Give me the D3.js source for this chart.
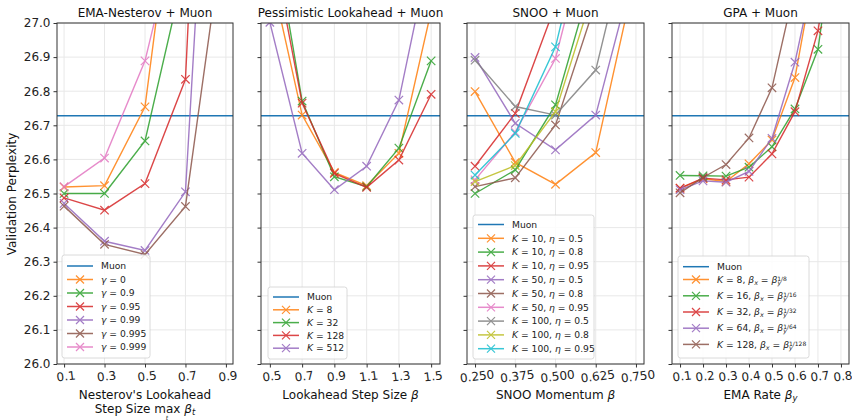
<!DOCTYPE html>
<html><head><meta charset="utf-8">
<script src="https://cdn.jsdelivr.net/npm/d3@7"></script>
<style>body{margin:0;background:#fff}svg{display:block;font-family:"DejaVu Sans",sans-serif}</style>
</head><body><svg id="c" width="852" height="420"></svg>
<script>
// ---------- DATA ----------
const muonBaseline = 26.728;
const yTicks = [26.0,26.1,26.2,26.3,26.4,26.5,26.6,26.7,26.8,26.9,27.0];

// Panel 1: EMA-Nesterov + Muon
const emaX = [0.1,0.3,0.5,0.7,0.9];
const emaTicks = [0.1,0.3,0.5,0.7,0.9];
const emaGammas = ["0","0.9","0.95","0.99","0.995","0.999"];
const emaSeries = [
  [26.519, 26.523, 26.754, 27.67, null],
  [26.500, 26.500, 26.654, 27.17, null],
  [26.487, 26.451, 26.529, 26.835, 29.3],
  [26.471, 26.360, 26.333, 26.505, 28.54],
  [26.463, 26.351, 26.321, 26.462, 27.32],
  [26.520, 26.604, 26.889, 27.38, null]
];

// Panel 2: Pessimistic Lookahead + Muon
const pessX = [0.5,0.7,0.9,1.1,1.3,1.5];
const pessTicks = [0.5,0.7,0.9,1.1,1.3,1.5];
const pessK = ["8","32","128","512"];
const pessSeries = [
  [27.155, 26.730, 26.562, 26.523, 26.618, 27.035],
  [27.33, 26.771, 26.549, 26.520, 26.633, 26.889],
  [27.26, 26.765, 26.559, 26.518, 26.598, 26.791],
  [27.002, 26.618, 26.511, 26.580, 26.774, 27.226]
];

// Panel 3: SNOO + Muon
const snooX = [0.25,0.375,0.5,0.625,0.75];
const snooTicks = [0.25,0.375,0.5,0.625,0.75];
const snooK = ["10","10","10","50","50","50","100","100","100"];
const snooEta = ["0.5","0.8","0.95","0.5","0.8","0.95","0.5","0.8","0.95"];
const snooSeries = [
  [26.799, 26.591, 26.527, 26.620, 27.15],
  [26.500, 26.569, 26.760, 27.17, null],
  [26.580, 26.735, 27.053, null, null],
  [26.899, 26.706, 26.628, 26.730, 27.18],
  [26.520, 26.546, 26.701, 27.06, null],
  [26.540, 26.680, 26.896, 27.36, null],
  [26.891, 26.755, 26.730, 26.862, 27.35],
  [26.535, 26.582, 26.740, 27.115, null],
  [26.554, 26.676, 26.930, 27.42, null]
];

// Panel 4: GPA + Muon
const gpaX = [0.1,0.2,0.3,0.4,0.5,0.6,0.7,0.8];
const gpaTicks = [0.1,0.2,0.3,0.4,0.5,0.6,0.7,0.8];
const gpaK = ["8","16","32","64","128"];
const gpaSeries = [
  [26.515, 26.543, 26.535, 26.587, 26.657, 26.840, 27.21, null],
  [26.553, 26.552, 26.551, 26.577, 26.637, 26.748, 26.923, 27.40],
  [26.516, 26.545, 26.540, 26.548, 26.616, 26.740, 26.977, 27.40],
  [26.511, 26.537, 26.533, 26.565, 26.662, 26.885, 27.20, null],
  [26.502, 26.547, 26.585, 26.663, 26.810, 27.107, null, null]
];

const colors = ["#ff7f0e","#2ca02c","#d62728","#9467bd","#8c564b","#e377c2","#7f7f7f","#bcbd22","#17becf"];
const muonColor = "#1f77b4";

// ---------- LAYOUT ----------
const svg = d3.select("#c");
const yTop = 23, yBot = 364;
const y = d3.scaleLinear().domain([26,27]).range([yBot,yTop]);

const I = t => ({t, it:true});
const R = t => ({t});
const SUB = t => ({t, sub:true, it:true});
const SUP = t => ({t, sup:true});

const panels = [
  {title:"EMA-Nesterov + Muon", xd:[0.065,0.935], xr:[57,233], xs:emaX, ticks:emaTicks, fmt:d3.format(".1f"),
   series:emaSeries, labels:emaGammas.map(g=>[I("γ"),R(" = "+g)]),
   leg:{x:62,y:255,w:88,h:103,rows:[266,279.5,293,306.5,320,333.5,347]}},
  {title:"Pessimistic Lookahead + Muon", xd:[0.445,1.555], xr:[261,440], xs:pessX, ticks:pessTicks, fmt:d3.format(".1f"),
   series:pessSeries, labels:pessK.map(k=>[I("K"),R(" = "+k)]),
   leg:{x:268,y:287,w:79,h:72,rows:[297,309.8,322.6,335.4,348.2]}},
  {title:"SNOO + Muon", xd:[0.225,0.775], xr:[467,644], xs:snooX, ticks:snooTicks, fmt:d3.format(".3f"),
   series:snooSeries, labels:snooK.map((k,i)=>[I("K"),R(" = "+k+", "),I("η"),R(" = "+snooEta[i])]),
   leg:{x:473,y:215,w:121,h:144,rows:[224.5,238.3,252.1,265.9,279.7,293.5,307.3,321.1,334.9,348.7]}},
  {title:"GPA + Muon", xd:[0.065,0.835], xr:[672,849], xs:gpaX, ticks:gpaTicks, fmt:d3.format(".1f"),
   series:gpaSeries, labels:gpaK.map(k=>[I("K"),R(" = "+k+", "),I("β"),SUB("x"),R(" = "),I("β"),SUB("y"),SUP("1/"+k)]),
   leg:{x:678,y:256,w:131,h:102,rows:[266.7,279.5,295.8,312,328.2,344.4]}}
];

const xlabels = [
  null,
  [R("Lookahead Step Size "),I("β")],
  [R("SNOO Momentum "),I("β")],
  [R("EMA Rate "),I("β"),SUB("y")]
];

function richText(sel, segs, fs){
  let prevSub = false;
  segs.forEach(s=>{
    const ts = sel.append("tspan").text(s.t);
    if (s.it) ts.attr("font-style","italic");
    if (s.sub){ ts.attr("font-size", fs*0.7).attr("baseline-shift","-25%"); prevSub = true; }
    else if (s.sup){ ts.attr("font-size", fs*0.65).attr("baseline-shift","40%"); if(prevSub) ts.attr("dx", -fs*0.42); prevSub=false; }
    else prevSub = false;
  });
}

function xMarker(g, cx, cy, r, color){
  g.append("path").attr("d",`M${cx-r},${cy-r}L${cx+r},${cy+r}M${cx-r},${cy+r}L${cx+r},${cy-r}`)
   .attr("stroke",color).attr("stroke-width",1.2).attr("fill","none");
}

panels.forEach((p,pi)=>{
  const x = d3.scaleLinear().domain(p.xd).range(p.xr);
  const g = svg.append("g");
  const [x0,x1] = p.xr;
  g.selectAll(".gx").data(p.ticks).join("line").attr("x1",d=>x(d)).attr("x2",d=>x(d)).attr("y1",yTop).attr("y2",yBot)
    .attr("stroke","#e8e8e8").attr("stroke-width",1);
  g.selectAll(".gy").data(yTicks).join("line").attr("x1",x0).attr("x2",x1).attr("y1",d=>y(d)).attr("y2",d=>y(d))
    .attr("stroke","#e8e8e8").attr("stroke-width",1);

  const cid = "clip"+pi;
  svg.append("clipPath").attr("id",cid).append("rect").attr("x",x0).attr("y",yTop).attr("width",x1-x0).attr("height",yBot-yTop);
  const pg = g.append("g").attr("clip-path",`url(#${cid})`);
  pg.append("line").attr("x1",x0).attr("x2",x1).attr("y1",y(muonBaseline)).attr("y2",y(muonBaseline))
    .attr("stroke",muonColor).attr("stroke-width",1.5);
  const line = d3.line().x(d=>x(d[0])).y(d=>y(d[1]));
  p.series.forEach((s,si)=>{
    const pts = p.xs.map((xv,i)=>[xv,s[i]]).filter(d=>d[1]!==null);
    const sg = pg.append("g").attr("opacity",0.85);
    sg.append("path").attr("d",line(pts)).attr("fill","none").attr("stroke",colors[si]).attr("stroke-width",1.4);
    pts.forEach(d=>xMarker(sg, x(d[0]), y(d[1]), 4.2, colors[si]));
  });
  g.append("rect").attr("x",x0).attr("y",yTop).attr("width",x1-x0).attr("height",yBot-yTop)
    .attr("fill","none").attr("stroke","#333").attr("stroke-width",1);
  const xa = g.append("g").attr("transform",`translate(0,${yBot})`)
    .call(d3.axisBottom(x).tickValues(p.ticks).tickFormat(p.fmt).tickSize(3.5).tickPadding(3));
  xa.select(".domain").remove();
  xa.selectAll(".tick line").attr("stroke","#333");
  xa.selectAll(".tick text").attr("font-size",12).attr("fill","#222").attr("font-family","DejaVu Sans")
    .attr("transform","rotate(-7) translate(0,1)").attr("dy","0.75em");
  const ya = g.append("g").attr("transform",`translate(${x0},0)`)
    .call(d3.axisLeft(y).tickValues(yTicks).tickFormat(pi===0?d3.format(".1f"):"").tickSize(3.5).tickPadding(3));
  ya.select(".domain").remove();
  ya.selectAll(".tick line").attr("stroke","#333");
  ya.selectAll(".tick text").attr("font-size",12).attr("fill","#222").attr("font-family","DejaVu Sans");
  svg.append("text").attr("x",(x0+x1)/2).attr("y",17).attr("text-anchor","middle").attr("font-size",12).attr("fill","#111").text(p.title);
  if (xlabels[pi]){
    const t = svg.append("text").attr("x",(x0+x1)/2).attr("y",399).attr("text-anchor","middle").attr("font-size",12).attr("fill","#111");
    richText(t, xlabels[pi], 12);
  }
  const L = p.leg;
  const lg = svg.append("g");
  lg.append("rect").attr("x",L.x).attr("y",L.y).attr("width",L.w).attr("height",L.h).attr("rx",2.5)
    .attr("fill","#fff").attr("fill-opacity",0.85).attr("stroke","#d0d0d0").attr("stroke-width",0.8);
  const entries = [{label:[R("Muon")], color:muonColor, marker:false}]
    .concat(p.labels.map((l,i)=>({label:l, color:colors[i], marker:true})));
  entries.forEach((e,i)=>{
    const ry = L.rows[i];
    const eg = lg.append("g").attr("opacity", e.marker?0.85:1);
    eg.append("line").attr("x1",L.x+5).attr("x2",L.x+31).attr("y1",ry).attr("y2",ry).attr("stroke",e.color).attr("stroke-width",1.5);
    if (e.marker) xMarker(eg, L.x+18, ry, 4, e.color);
    const t = lg.append("text").attr("x",L.x+39).attr("y",ry).attr("dy","0.35em").attr("font-size",9.2).attr("fill","#222");
    richText(t, e.label, 9.2);
  });
});

svg.append("text").attr("transform","translate(16,194) rotate(-90)").attr("text-anchor","middle").attr("font-size",12).attr("fill","#111").text("Validation Perplexity");
svg.append("text").attr("x",145).attr("y",399).attr("text-anchor","middle").attr("font-size",12).attr("fill","#111").text("Nesterov's Lookahead");
const l2 = svg.append("text").attr("x",145).attr("y",413).attr("text-anchor","middle").attr("font-size",12).attr("fill","#111");
richText(l2, [R("Step Size max "), I("β"), SUB("t")], 12);
svg.append("text").attr("x",167).attr("y",419.5).attr("text-anchor","middle").attr("font-size",6).attr("font-style","italic").attr("fill","#111").text("t");
</script></body></html>
